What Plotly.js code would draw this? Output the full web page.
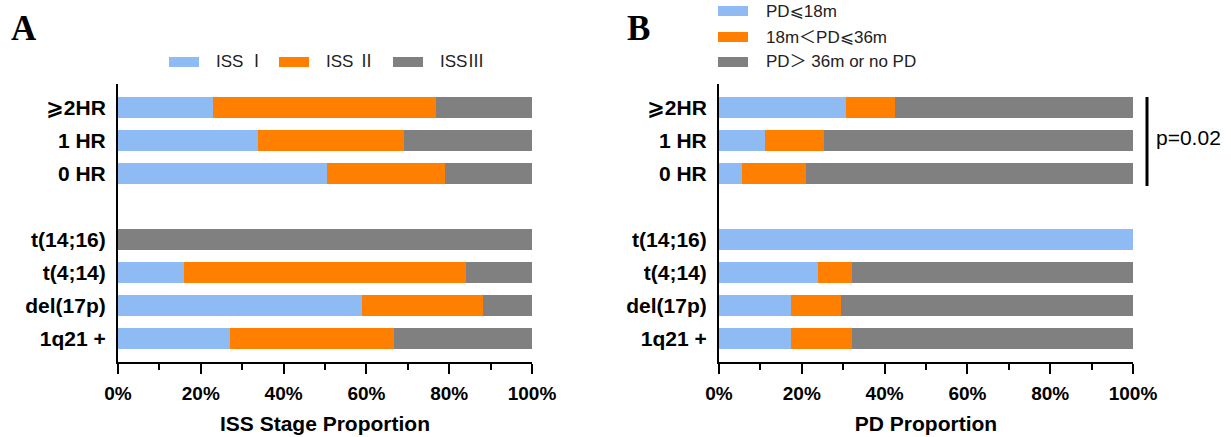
<!DOCTYPE html>
<html><head><meta charset="utf-8">
<script src="https://cdn.plot.ly/plotly-3.0.1.min.js"></script>
<style>html,body{margin:0;padding:0;background:#fff}#chart{width:1231px;height:437px}</style>
</head><body><div id="chart"></div>
<script>
// ---- data (bottom to top) ----
const cytoCategories = ['1q21 +', 'del(17p)', 't(4;14)', 't(14;16)'];
const hrCategories = ['0 HR', '1 HR', '⩾2HR'];

const issNames = ['ISS Ⅰ', 'ISS Ⅱ', 'ISSⅢ'];
const issI   = [27.1, 58.9, 15.9, 0,   50.6, 33.8, 23.0];
const issII  = [39.5, 29.2, 68.2, 0,   28.3, 35.2, 53.9];
const issIII = [33.4, 11.9, 15.9, 100, 21.1, 31.0, 23.1];

const pdNames = ['PD⩽18m', '18m＜PD⩽36m', 'PD＞ 36m or no PD'];
const pdEarly = [17.3, 17.5, 24.0, 100, 5.5, 11.2, 30.7];
const pdMid   = [14.8, 11.9, 8.1,  0,   15.6, 14.2, 11.8];
const pdLate  = [67.9, 70.6, 67.9, 0,   78.9, 74.6, 57.5];

const xTickVals = [0, 20, 40, 60, 80, 100];
const xTickText = ['0%', '20%', '40%', '60%', '80%', '100%'];
const pLabel = 'p=0.02';

// ---- styling / layout ----
const colors = ['#8fbbf5', '#ff8000', '#808080'];
const W = 1231, H = 437;
const GROUP_GAP = 1;
const categories = cytoCategories.concat(hrCategories);
const yPos = categories.map((c, i) => i < cytoCategories.length ? i : i + GROUP_GAP);

const FONT = 'Arial, "Liberation Sans", "Noto Sans CJK SC", "DejaVu Sans", sans-serif';
const px = x => x / W;
const py = y => 1 - y / H;

function traces(series, names, xa, ya) {
  return series.map((vals, k) => ({
    type: 'bar', orientation: 'h', x: vals, y: yPos, name: names[k],
    xaxis: xa, yaxis: ya, width: 0.65, showlegend: false,
    marker: {color: colors[k], line: {width: 0}}, hoverinfo: 'x+name'
  }));
}

const data = traces([issI, issII, issIII], issNames, 'x', 'y')
  .concat(traces([pdEarly, pdMid, pdLate], pdNames, 'x2', 'y2'));

function xAxis(domain, anchor, title) {
  return {
    domain: domain, anchor: anchor, range: [0, 100], fixedrange: true,
    tickmode: 'array', tickvals: xTickVals, ticktext: xTickText,
    ticks: 'outside', ticklen: 10, tickwidth: 2, tickcolor: '#000',
    minor: {ticks: 'outside', ticklen: 6, tickwidth: 2, tickcolor: '#000', dtick: 10, tick0: 0},
    showline: true, linewidth: 2, linecolor: '#000', showgrid: false, zeroline: false,
    ticklabelstandoff: 3,
    tickfont: {family: FONT, size: 19, color: '#000', weight: 'bold'},
    title: {text: title, font: {family: FONT, size: 21, color: '#000', weight: 'bold'}, standoff: 14},
    automargin: false
  };
}
function yAxis(domain, anchor) {
  return {
    domain: domain, anchor: anchor, range: [-0.71, 7.71], fixedrange: true,
    tickmode: 'array', tickvals: yPos, ticktext: categories, ticks: '',
    showline: true, linewidth: 2, linecolor: '#000',
    showgrid: false, zeroline: false, ticklabelstandoff: 6,
    tickfont: {family: FONT, size: 21, color: '#000', weight: 'bold'}, automargin: false
  };
}

const yDom = [py(362), py(84)];
const shapes = [], annotations = [];

// panel letters
const letterFont = {family: '"Liberation Serif", "DejaVu Serif", serif', size: 35, color: '#000', weight: 'bold'};
annotations.push({xref: 'paper', yref: 'paper', x: px(9), y: py(28), text: 'A', showarrow: false, xanchor: 'left', yanchor: 'middle', font: letterFont});
annotations.push({xref: 'paper', yref: 'paper', x: px(625), y: py(28), text: 'B', showarrow: false, xanchor: 'left', yanchor: 'middle', font: letterFont});

// legend A (horizontal)
const legAx = [169, 279, 393];
issNames.forEach((n, k) => {
  shapes.push({type: 'rect', xref: 'paper', yref: 'paper', x0: px(legAx[k]), x1: px(legAx[k] + 30),
    y0: py(67), y1: py(57), fillcolor: colors[k], line: {width: 0}});
  annotations.push({xref: 'paper', yref: 'paper', x: px(legAx[k] + 45), y: py(62), text: n, showarrow: false,
    xanchor: 'left', yanchor: 'middle', font: {family: FONT, size: 17, color: '#222'}});
});
// legend B (vertical)
const legBy = [11, 37, 62];
pdNames.forEach((n, k) => {
  shapes.push({type: 'rect', xref: 'paper', yref: 'paper', x0: px(718), x1: px(748),
    y0: py(legBy[k] + 5), y1: py(legBy[k] - 5), fillcolor: colors[k], line: {width: 0}});
  annotations.push({xref: 'paper', yref: 'paper', x: px(764), y: py(legBy[k]), text: n, showarrow: false,
    xanchor: 'left', yanchor: 'middle', font: {family: FONT, size: 17, color: '#222'}});
});
// p-value bracket
shapes.push({type: 'line', xref: 'paper', yref: 'paper', x0: px(1147), x1: px(1147), y0: py(97), y1: py(186),
  line: {color: '#000', width: 3}});
annotations.push({xref: 'paper', yref: 'paper', x: px(1154), y: py(137), text: pLabel, showarrow: false,
  xanchor: 'left', yanchor: 'middle', font: {family: FONT, size: 21, color: '#000'}});

const layout = {
  width: W, height: H, margin: {l: 0, r: 0, t: 0, b: 0},
  paper_bgcolor: '#fff', plot_bgcolor: '#fff', barmode: 'stack', bargap: 0,
  showlegend: false,
  xaxis: xAxis([px(118), px(532)], 'y', 'ISS Stage Proportion'),
  yaxis: yAxis(yDom, 'x'),
  xaxis2: xAxis([px(719), px(1133)], 'y2', 'PD Proportion'),
  yaxis2: yAxis(yDom, 'x2'),
  shapes: shapes, annotations: annotations
};

Plotly.newPlot('chart', data, layout, {displayModeBar: false, staticPlot: true});
</script></body></html>
